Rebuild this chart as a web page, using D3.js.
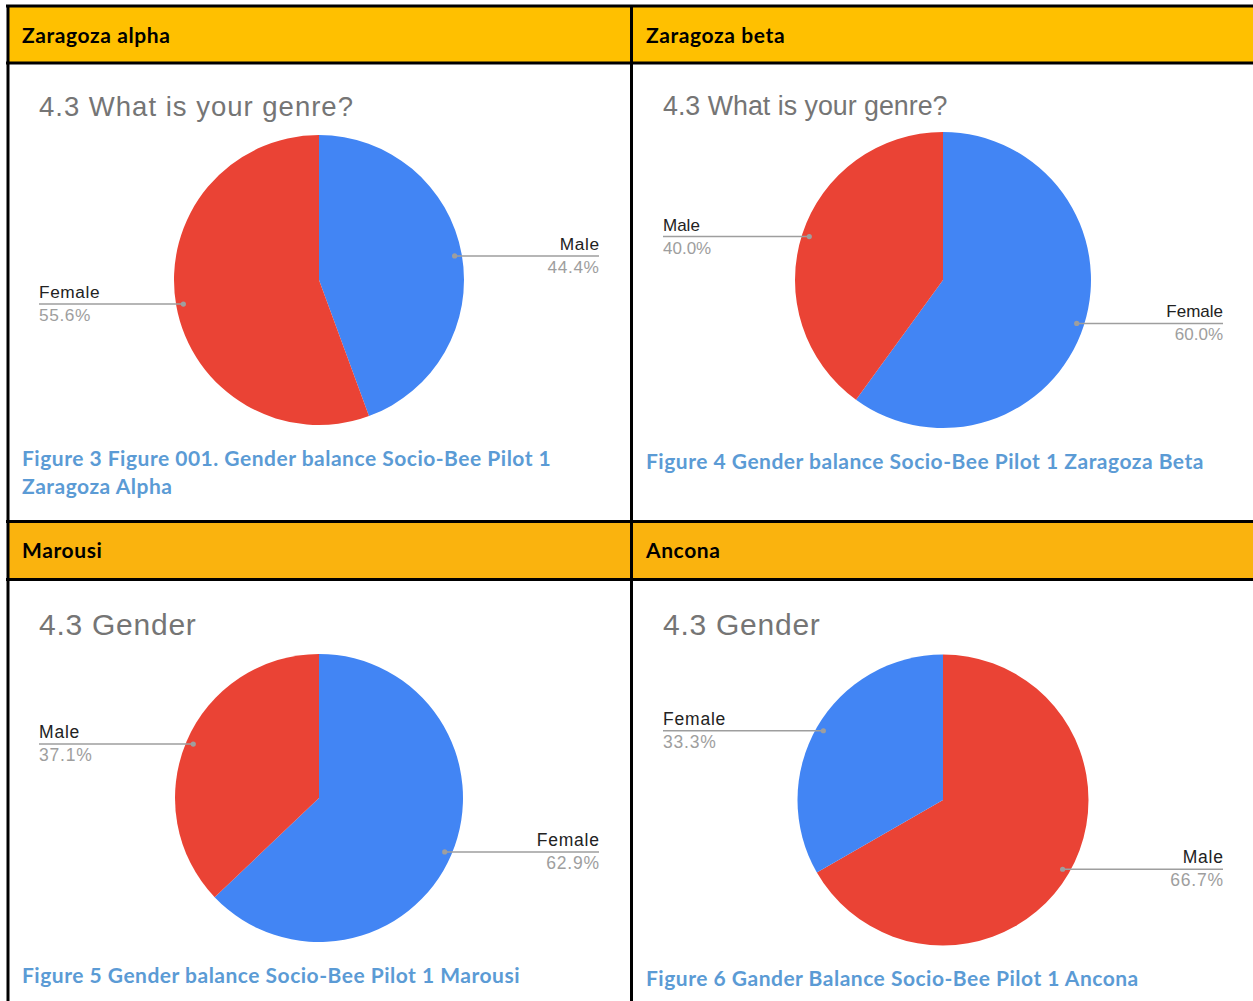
<!DOCTYPE html>
<html>
<head>
<meta charset="utf-8">
<script src="https://cdn.jsdelivr.net/npm/d3@7"></script>
<style>
  html, body { margin: 0; padding: 0; background: #fff; }
  svg { display: block; }
</style>
</head>
<body>
<svg id="sheet" width="1253" height="1001"></svg>
<script>
// Pilot sites, one per table cell
const siteNames = ["Zaragoza alpha", "Zaragoza beta", "Marousi", "Ancona"];
const chartTitles = ["4.3 What is your genre?", "4.3 What is your genre?", "4.3 Gender", "4.3 Gender"];
// Slices are listed in drawing order, clockwise from 12 o'clock
const sliceLabels = [
  ["Male", "Female"],
  ["Female", "Male"],
  ["Female", "Male"],
  ["Male", "Female"]
];
const sliceValues = [
  [44.4, 55.6],
  [60.0, 40.0],
  [62.9, 37.1],
  [66.7, 33.3]
];
const captions = [
  ["Figure 3 Figure 001. Gender balance Socio-Bee Pilot 1", "Zaragoza Alpha"],
  ["Figure 4 Gender balance Socio-Bee Pilot 1 Zaragoza Beta"],
  ["Figure 5 Gender balance Socio-Bee Pilot 1 Marousi"],
  ["Figure 6 Gander Balance Socio-Bee Pilot 1 Ancona"]
];

// ---- styling & layout ----
const BLUE = "#4285F4", RED = "#EA4335";
const sliceColors = [[BLUE, RED], [BLUE, RED], [BLUE, RED], [RED, BLUE]];
const SANS = "Arial, 'Liberation Sans', sans-serif";
const DOC = "Lato, 'Open Sans', sans-serif";

const rowTop = [6, 521];           // top border of each table row
const headerH = 57;

// Each embedded chart was pasted at a slightly different scale
const cells = [
  {col: 0, row: 0, cx: 319, cy: 280, r: 145,   titleY: 116, titleSize: 27.5, titleLs: 1.0, labelSize: 17.3, labelLs: 0.6, capY: [466, 494]},
  {col: 1, row: 0, cx: 943, cy: 280, r: 148,   titleY: 115, titleSize: 26.8, titleLs: 0,   labelSize: 17,   labelLs: 0,   capY: [469]},
  {col: 0, row: 1, cx: 319, cy: 798, r: 144,   titleY: 635, titleSize: 30,   titleLs: 0.75, labelSize: 17.5, labelLs: 0.8, capY: [983]},
  {col: 1, row: 1, cx: 943, cy: 800, r: 145.5, titleY: 635, titleSize: 30,   titleLs: 0.75, labelSize: 17.5, labelLs: 0.8, capY: [986]}
];

const svg = d3.select("#sheet");

// Header bands
const headerFill = ["#FFC000", "#FAB30E"];
cells.forEach((c, i) => {
  const x0 = c.col === 0 ? 8 : 632;
  const x1 = c.col === 0 ? 632 : 1253;
  svg.append("rect")
    .attr("x", x0).attr("y", rowTop[c.row])
    .attr("width", x1 - x0).attr("height", headerH)
    .attr("fill", headerFill[c.row]);
  svg.append("text")
    .attr("x", c.col === 0 ? 22 : 646)
    .attr("y", rowTop[c.row] + 37)
    .attr("font-family", DOC)
    .attr("font-weight", 700)
    .attr("font-size", 21)
    .attr("letter-spacing", 0.6)
    .attr("fill", "#000")
    .text(siteNames[i]);
});

// Table rules
const rule = (x1, y1, x2, y2, w) => svg.append("line")
  .attr("x1", x1).attr("y1", y1).attr("x2", x2).attr("y2", y2)
  .attr("stroke", "#000").attr("stroke-width", w);
rule(6, 6, 1253, 6, 3);
rule(6, 63, 1253, 63, 3);
rule(6, 521.5, 1253, 521.5, 3);
rule(6, 579.5, 1253, 579.5, 3);
rule(8, 5, 8, 1001, 3);
rule(631.5, 5, 631.5, 1001, 3);

// Pies
const pie = d3.pie().sort(null).value(d => d);
cells.forEach((c, i) => {
  const g = svg.append("g");
  g.append("text")
    .attr("x", c.col === 0 ? 39 : 663)
    .attr("y", c.titleY)
    .attr("font-family", SANS)
    .attr("font-size", c.titleSize)
    .attr("letter-spacing", c.titleLs)
    .attr("fill", "#757575")
    .text(chartTitles[i]);

  const arcs = pie(sliceValues[i]);
  const arc = d3.arc().innerRadius(0).outerRadius(c.r);
  const pg = g.append("g").attr("transform", `translate(${c.cx},${c.cy})`);
  pg.selectAll("path").data(arcs).join("path")
    .attr("d", arc)
    .attr("fill", (d, k) => sliceColors[i][k]);

  // Callouts: a dot on each slice, a rule out to the panel edge, name above, share below
  const leftEdge = c.col === 0 ? 39 : 663;
  const rightEdge = c.col === 0 ? 599 : 1223;
  arcs.forEach((d, k) => {
    const mid = (d.startAngle + d.endAngle) / 2;
    const rd = c.r * 0.95;
    const px = c.cx + rd * Math.sin(mid);
    const py = c.cy - rd * Math.cos(mid);
    const right = Math.sin(mid) > 0;
    const ex = right ? rightEdge : leftEdge;
    g.append("line")
      .attr("x1", px).attr("y1", py).attr("x2", ex).attr("y2", py)
      .attr("stroke", "#9e9e9e").attr("stroke-width", 1.5);
    g.append("circle").attr("cx", px).attr("cy", py).attr("r", 2.6).attr("fill", "#9e9e9e");
    const anchor = right ? "end" : "start";
    // trailing letter-spacing would push end-anchored text left; compensate
    const lx = right ? ex + c.labelLs : ex;
    g.append("text")
      .attr("x", lx).attr("y", py - 6)
      .attr("text-anchor", anchor)
      .attr("font-family", SANS)
      .attr("font-size", c.labelSize)
      .attr("letter-spacing", c.labelLs)
      .attr("fill", "#222")
      .text(sliceLabels[i][k]);
    g.append("text")
      .attr("x", lx).attr("y", py + 17)
      .attr("text-anchor", anchor)
      .attr("font-family", SANS)
      .attr("font-size", c.labelSize)
      .attr("letter-spacing", c.labelLs)
      .attr("fill", "#9e9e9e")
      .text(d3.format(".1f")(d.data) + "%");
  });

  // Figure caption
  captions[i].forEach((line, k) => {
    g.append("text")
      .attr("x", c.col === 0 ? 22 : 646)
      .attr("y", c.capY[k])
      .attr("font-family", DOC)
      .attr("font-weight", 700)
      .attr("font-size", 21)
      .attr("letter-spacing", 0.5)
      .attr("fill", "#5B9BD5")
      .text(line);
  });
});
</script>
</body>
</html>
